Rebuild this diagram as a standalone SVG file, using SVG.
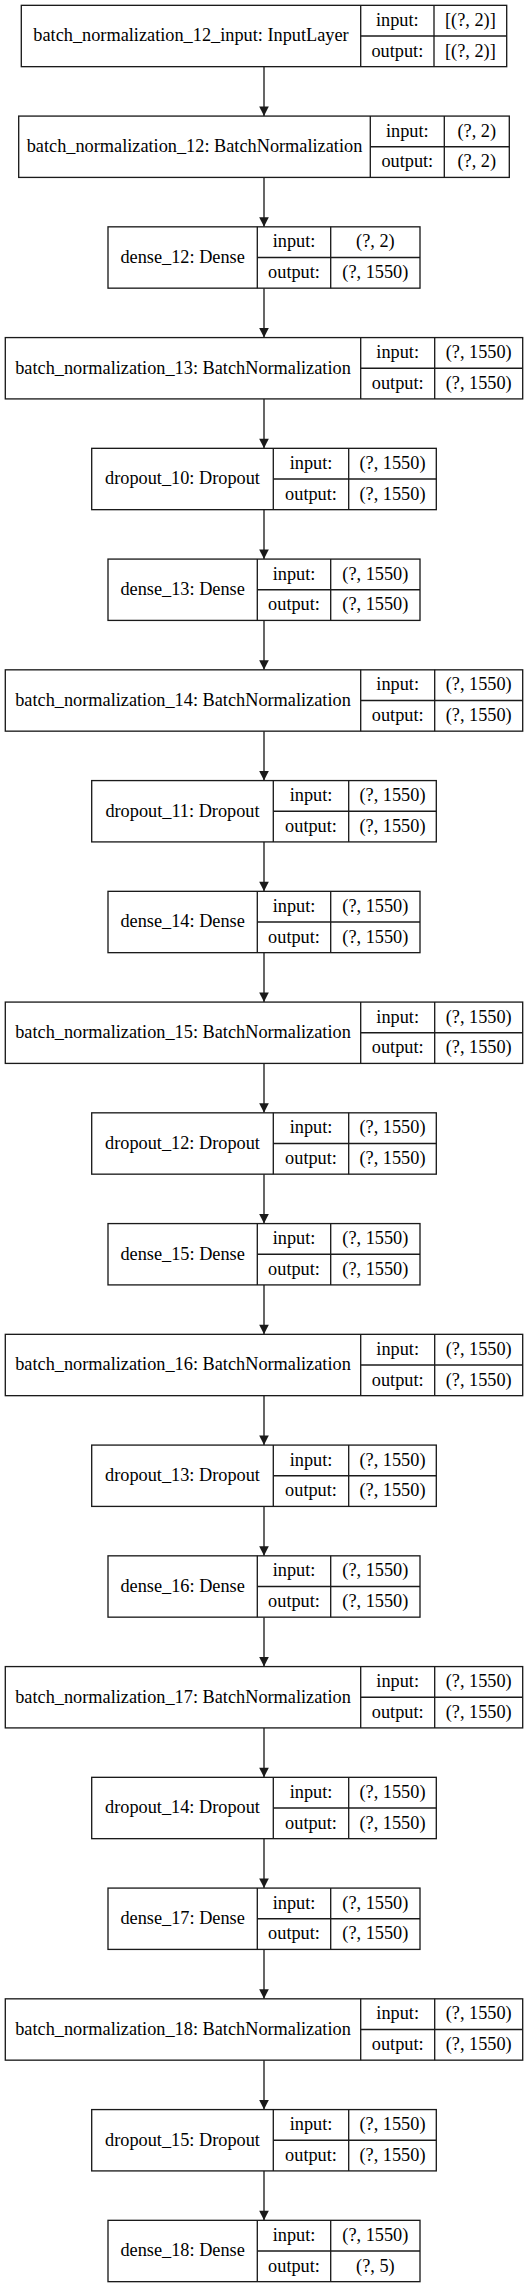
<svg xmlns="http://www.w3.org/2000/svg" width="528" height="2287" viewBox="0 0 528 2287">
<style>
.b{fill:#fff;stroke:#1a1a1a;stroke-width:1.33}
.l{stroke:#1a1a1a;stroke-width:1.33;fill:none}
.c{stroke:#1a1a1a;stroke-width:1.33;fill:none;marker-end:url(#ah)}
text{font-family:"Liberation Serif","Times New Roman",serif;font-size:18.3px;fill:#000;text-anchor:middle}
</style>
<defs>
<marker id="ah" viewBox="0 0 10 10" refX="10" refY="5" markerWidth="13.5" markerHeight="9.6" markerUnits="userSpaceOnUse" orient="auto">
<path d="M0,0 L10,5 L0,10 z" fill="#1a1a1a"/>
</marker>
</defs>
<rect width="528" height="2287" fill="#fff"/>
<g id="connectors">
<line class="c" x1="264" y1="66.66" x2="264" y2="116.08"/>
<line class="c" x1="264" y1="177.41" x2="264" y2="226.83"/>
<line class="c" x1="264" y1="288.16" x2="264" y2="337.58"/>
<line class="c" x1="264" y1="398.91" x2="264" y2="448.33"/>
<line class="c" x1="264" y1="509.66" x2="264" y2="559.08"/>
<line class="c" x1="264" y1="620.41" x2="264" y2="669.83"/>
<line class="c" x1="264" y1="731.16" x2="264" y2="780.58"/>
<line class="c" x1="264" y1="841.91" x2="264" y2="891.33"/>
<line class="c" x1="264" y1="952.66" x2="264" y2="1002.08"/>
<line class="c" x1="264" y1="1063.41" x2="264" y2="1112.83"/>
<line class="c" x1="264" y1="1174.16" x2="264" y2="1223.58"/>
<line class="c" x1="264" y1="1284.91" x2="264" y2="1334.33"/>
<line class="c" x1="264" y1="1395.66" x2="264" y2="1445.08"/>
<line class="c" x1="264" y1="1506.41" x2="264" y2="1555.83"/>
<line class="c" x1="264" y1="1617.16" x2="264" y2="1666.58"/>
<line class="c" x1="264" y1="1727.91" x2="264" y2="1777.33"/>
<line class="c" x1="264" y1="1838.66" x2="264" y2="1888.08"/>
<line class="c" x1="264" y1="1949.41" x2="264" y2="1998.83"/>
<line class="c" x1="264" y1="2060.16" x2="264" y2="2109.58"/>
<line class="c" x1="264" y1="2170.91" x2="264" y2="2220.33"/>
</g>
<g id="n0" transform="translate(0,5.33)">
<rect class="b" x="21.3" y="0" width="485.4" height="61.33"/>
<line class="l" x1="360.7" y1="0" x2="360.7" y2="61.33"/><line class="l" x1="434" y1="0" x2="434" y2="61.33"/><line class="l" x1="360.7" y1="30.67" x2="506.7" y2="30.67"/>
<text x="191" y="36">batch_normalization_12_input: InputLayer</text>
<text x="397.35" y="20.5">input:</text><text x="397.35" y="51.3">output:</text>
<text x="470.35" y="20.5">[(?, 2)]</text><text x="470.35" y="51.3">[(?, 2)]</text>
</g>
<g id="n1" transform="translate(0,116.08)">
<rect class="b" x="18.7" y="0" width="490.6" height="61.33"/>
<line class="l" x1="370.3" y1="0" x2="370.3" y2="61.33"/><line class="l" x1="444.3" y1="0" x2="444.3" y2="61.33"/><line class="l" x1="370.3" y1="30.67" x2="509.3" y2="30.67"/>
<text x="194.5" y="36">batch_normalization_12: BatchNormalization</text>
<text x="407.3" y="20.5">input:</text><text x="407.3" y="51.3">output:</text>
<text x="476.8" y="20.5">(?, 2)</text><text x="476.8" y="51.3">(?, 2)</text>
</g>
<g id="n2" transform="translate(0,226.83)">
<rect class="b" x="108" y="0" width="312" height="61.33"/>
<line class="l" x1="257.3" y1="0" x2="257.3" y2="61.33"/><line class="l" x1="330.7" y1="0" x2="330.7" y2="61.33"/><line class="l" x1="257.3" y1="30.67" x2="420" y2="30.67"/>
<text x="182.65" y="36">dense_12: Dense</text>
<text x="294" y="20.5">input:</text><text x="294" y="51.3">output:</text>
<text x="375.35" y="20.5">(?, 2)</text><text x="375.35" y="51.3">(?, 1550)</text>
</g>
<g id="n3" transform="translate(0,337.58)">
<rect class="b" x="5.3" y="0" width="517.4" height="61.33"/>
<line class="l" x1="360.7" y1="0" x2="360.7" y2="61.33"/><line class="l" x1="434.7" y1="0" x2="434.7" y2="61.33"/><line class="l" x1="360.7" y1="30.67" x2="522.7" y2="30.67"/>
<text x="183" y="36">batch_normalization_13: BatchNormalization</text>
<text x="397.7" y="20.5">input:</text><text x="397.7" y="51.3">output:</text>
<text x="478.7" y="20.5">(?, 1550)</text><text x="478.7" y="51.3">(?, 1550)</text>
</g>
<g id="n4" transform="translate(0,448.33)">
<rect class="b" x="91.7" y="0" width="344.6" height="61.33"/>
<line class="l" x1="273.3" y1="0" x2="273.3" y2="61.33"/><line class="l" x1="348.7" y1="0" x2="348.7" y2="61.33"/><line class="l" x1="273.3" y1="30.67" x2="436.3" y2="30.67"/>
<text x="182.5" y="36">dropout_10: Dropout</text>
<text x="311" y="20.5">input:</text><text x="311" y="51.3">output:</text>
<text x="392.5" y="20.5">(?, 1550)</text><text x="392.5" y="51.3">(?, 1550)</text>
</g>
<g id="n5" transform="translate(0,559.08)">
<rect class="b" x="108" y="0" width="312" height="61.33"/>
<line class="l" x1="257.3" y1="0" x2="257.3" y2="61.33"/><line class="l" x1="330.7" y1="0" x2="330.7" y2="61.33"/><line class="l" x1="257.3" y1="30.67" x2="420" y2="30.67"/>
<text x="182.65" y="36">dense_13: Dense</text>
<text x="294" y="20.5">input:</text><text x="294" y="51.3">output:</text>
<text x="375.35" y="20.5">(?, 1550)</text><text x="375.35" y="51.3">(?, 1550)</text>
</g>
<g id="n6" transform="translate(0,669.83)">
<rect class="b" x="5.3" y="0" width="517.4" height="61.33"/>
<line class="l" x1="360.7" y1="0" x2="360.7" y2="61.33"/><line class="l" x1="434.7" y1="0" x2="434.7" y2="61.33"/><line class="l" x1="360.7" y1="30.67" x2="522.7" y2="30.67"/>
<text x="183" y="36">batch_normalization_14: BatchNormalization</text>
<text x="397.7" y="20.5">input:</text><text x="397.7" y="51.3">output:</text>
<text x="478.7" y="20.5">(?, 1550)</text><text x="478.7" y="51.3">(?, 1550)</text>
</g>
<g id="n7" transform="translate(0,780.58)">
<rect class="b" x="91.7" y="0" width="344.6" height="61.33"/>
<line class="l" x1="273.3" y1="0" x2="273.3" y2="61.33"/><line class="l" x1="348.7" y1="0" x2="348.7" y2="61.33"/><line class="l" x1="273.3" y1="30.67" x2="436.3" y2="30.67"/>
<text x="182.5" y="36">dropout_11: Dropout</text>
<text x="311" y="20.5">input:</text><text x="311" y="51.3">output:</text>
<text x="392.5" y="20.5">(?, 1550)</text><text x="392.5" y="51.3">(?, 1550)</text>
</g>
<g id="n8" transform="translate(0,891.33)">
<rect class="b" x="108" y="0" width="312" height="61.33"/>
<line class="l" x1="257.3" y1="0" x2="257.3" y2="61.33"/><line class="l" x1="330.7" y1="0" x2="330.7" y2="61.33"/><line class="l" x1="257.3" y1="30.67" x2="420" y2="30.67"/>
<text x="182.65" y="36">dense_14: Dense</text>
<text x="294" y="20.5">input:</text><text x="294" y="51.3">output:</text>
<text x="375.35" y="20.5">(?, 1550)</text><text x="375.35" y="51.3">(?, 1550)</text>
</g>
<g id="n9" transform="translate(0,1002.08)">
<rect class="b" x="5.3" y="0" width="517.4" height="61.33"/>
<line class="l" x1="360.7" y1="0" x2="360.7" y2="61.33"/><line class="l" x1="434.7" y1="0" x2="434.7" y2="61.33"/><line class="l" x1="360.7" y1="30.67" x2="522.7" y2="30.67"/>
<text x="183" y="36">batch_normalization_15: BatchNormalization</text>
<text x="397.7" y="20.5">input:</text><text x="397.7" y="51.3">output:</text>
<text x="478.7" y="20.5">(?, 1550)</text><text x="478.7" y="51.3">(?, 1550)</text>
</g>
<g id="n10" transform="translate(0,1112.83)">
<rect class="b" x="91.7" y="0" width="344.6" height="61.33"/>
<line class="l" x1="273.3" y1="0" x2="273.3" y2="61.33"/><line class="l" x1="348.7" y1="0" x2="348.7" y2="61.33"/><line class="l" x1="273.3" y1="30.67" x2="436.3" y2="30.67"/>
<text x="182.5" y="36">dropout_12: Dropout</text>
<text x="311" y="20.5">input:</text><text x="311" y="51.3">output:</text>
<text x="392.5" y="20.5">(?, 1550)</text><text x="392.5" y="51.3">(?, 1550)</text>
</g>
<g id="n11" transform="translate(0,1223.58)">
<rect class="b" x="108" y="0" width="312" height="61.33"/>
<line class="l" x1="257.3" y1="0" x2="257.3" y2="61.33"/><line class="l" x1="330.7" y1="0" x2="330.7" y2="61.33"/><line class="l" x1="257.3" y1="30.67" x2="420" y2="30.67"/>
<text x="182.65" y="36">dense_15: Dense</text>
<text x="294" y="20.5">input:</text><text x="294" y="51.3">output:</text>
<text x="375.35" y="20.5">(?, 1550)</text><text x="375.35" y="51.3">(?, 1550)</text>
</g>
<g id="n12" transform="translate(0,1334.33)">
<rect class="b" x="5.3" y="0" width="517.4" height="61.33"/>
<line class="l" x1="360.7" y1="0" x2="360.7" y2="61.33"/><line class="l" x1="434.7" y1="0" x2="434.7" y2="61.33"/><line class="l" x1="360.7" y1="30.67" x2="522.7" y2="30.67"/>
<text x="183" y="36">batch_normalization_16: BatchNormalization</text>
<text x="397.7" y="20.5">input:</text><text x="397.7" y="51.3">output:</text>
<text x="478.7" y="20.5">(?, 1550)</text><text x="478.7" y="51.3">(?, 1550)</text>
</g>
<g id="n13" transform="translate(0,1445.08)">
<rect class="b" x="91.7" y="0" width="344.6" height="61.33"/>
<line class="l" x1="273.3" y1="0" x2="273.3" y2="61.33"/><line class="l" x1="348.7" y1="0" x2="348.7" y2="61.33"/><line class="l" x1="273.3" y1="30.67" x2="436.3" y2="30.67"/>
<text x="182.5" y="36">dropout_13: Dropout</text>
<text x="311" y="20.5">input:</text><text x="311" y="51.3">output:</text>
<text x="392.5" y="20.5">(?, 1550)</text><text x="392.5" y="51.3">(?, 1550)</text>
</g>
<g id="n14" transform="translate(0,1555.83)">
<rect class="b" x="108" y="0" width="312" height="61.33"/>
<line class="l" x1="257.3" y1="0" x2="257.3" y2="61.33"/><line class="l" x1="330.7" y1="0" x2="330.7" y2="61.33"/><line class="l" x1="257.3" y1="30.67" x2="420" y2="30.67"/>
<text x="182.65" y="36">dense_16: Dense</text>
<text x="294" y="20.5">input:</text><text x="294" y="51.3">output:</text>
<text x="375.35" y="20.5">(?, 1550)</text><text x="375.35" y="51.3">(?, 1550)</text>
</g>
<g id="n15" transform="translate(0,1666.58)">
<rect class="b" x="5.3" y="0" width="517.4" height="61.33"/>
<line class="l" x1="360.7" y1="0" x2="360.7" y2="61.33"/><line class="l" x1="434.7" y1="0" x2="434.7" y2="61.33"/><line class="l" x1="360.7" y1="30.67" x2="522.7" y2="30.67"/>
<text x="183" y="36">batch_normalization_17: BatchNormalization</text>
<text x="397.7" y="20.5">input:</text><text x="397.7" y="51.3">output:</text>
<text x="478.7" y="20.5">(?, 1550)</text><text x="478.7" y="51.3">(?, 1550)</text>
</g>
<g id="n16" transform="translate(0,1777.33)">
<rect class="b" x="91.7" y="0" width="344.6" height="61.33"/>
<line class="l" x1="273.3" y1="0" x2="273.3" y2="61.33"/><line class="l" x1="348.7" y1="0" x2="348.7" y2="61.33"/><line class="l" x1="273.3" y1="30.67" x2="436.3" y2="30.67"/>
<text x="182.5" y="36">dropout_14: Dropout</text>
<text x="311" y="20.5">input:</text><text x="311" y="51.3">output:</text>
<text x="392.5" y="20.5">(?, 1550)</text><text x="392.5" y="51.3">(?, 1550)</text>
</g>
<g id="n17" transform="translate(0,1888.08)">
<rect class="b" x="108" y="0" width="312" height="61.33"/>
<line class="l" x1="257.3" y1="0" x2="257.3" y2="61.33"/><line class="l" x1="330.7" y1="0" x2="330.7" y2="61.33"/><line class="l" x1="257.3" y1="30.67" x2="420" y2="30.67"/>
<text x="182.65" y="36">dense_17: Dense</text>
<text x="294" y="20.5">input:</text><text x="294" y="51.3">output:</text>
<text x="375.35" y="20.5">(?, 1550)</text><text x="375.35" y="51.3">(?, 1550)</text>
</g>
<g id="n18" transform="translate(0,1998.83)">
<rect class="b" x="5.3" y="0" width="517.4" height="61.33"/>
<line class="l" x1="360.7" y1="0" x2="360.7" y2="61.33"/><line class="l" x1="434.7" y1="0" x2="434.7" y2="61.33"/><line class="l" x1="360.7" y1="30.67" x2="522.7" y2="30.67"/>
<text x="183" y="36">batch_normalization_18: BatchNormalization</text>
<text x="397.7" y="20.5">input:</text><text x="397.7" y="51.3">output:</text>
<text x="478.7" y="20.5">(?, 1550)</text><text x="478.7" y="51.3">(?, 1550)</text>
</g>
<g id="n19" transform="translate(0,2109.58)">
<rect class="b" x="91.7" y="0" width="344.6" height="61.33"/>
<line class="l" x1="273.3" y1="0" x2="273.3" y2="61.33"/><line class="l" x1="348.7" y1="0" x2="348.7" y2="61.33"/><line class="l" x1="273.3" y1="30.67" x2="436.3" y2="30.67"/>
<text x="182.5" y="36">dropout_15: Dropout</text>
<text x="311" y="20.5">input:</text><text x="311" y="51.3">output:</text>
<text x="392.5" y="20.5">(?, 1550)</text><text x="392.5" y="51.3">(?, 1550)</text>
</g>
<g id="n20" transform="translate(0,2220.33)">
<rect class="b" x="108" y="0" width="312" height="61.33"/>
<line class="l" x1="257.3" y1="0" x2="257.3" y2="61.33"/><line class="l" x1="330.7" y1="0" x2="330.7" y2="61.33"/><line class="l" x1="257.3" y1="30.67" x2="420" y2="30.67"/>
<text x="182.65" y="36">dense_18: Dense</text>
<text x="294" y="20.5">input:</text><text x="294" y="51.3">output:</text>
<text x="375.35" y="20.5">(?, 1550)</text><text x="375.35" y="51.3">(?, 5)</text>
</g>
</svg>
